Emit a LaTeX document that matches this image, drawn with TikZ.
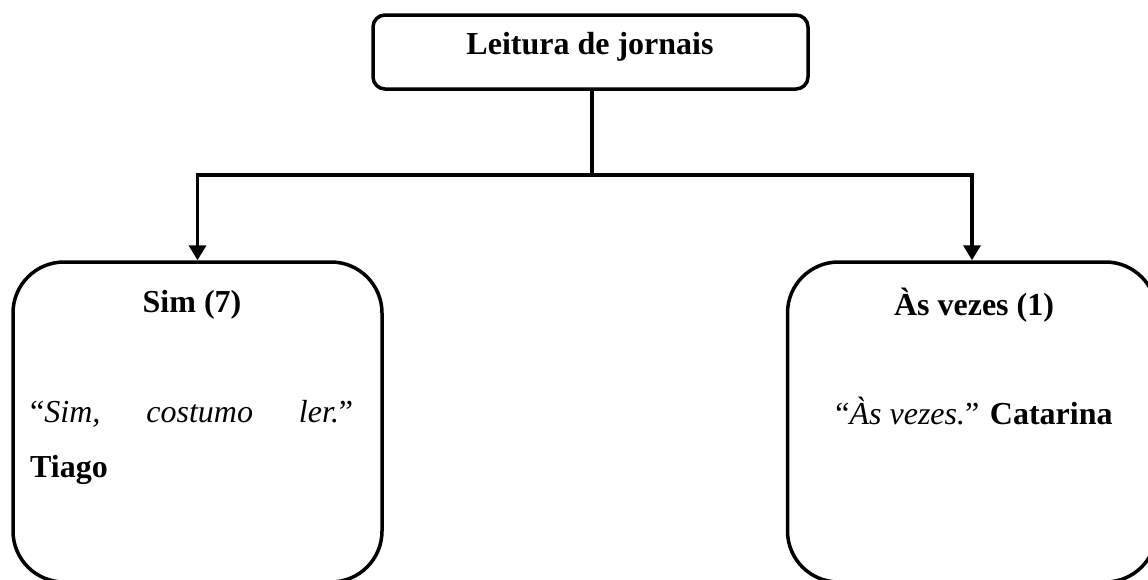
\documentclass[tikz,border=0pt]{standalone}
\usepackage{fontspec}
\setmainfont{Liberation Serif}
\usetikzlibrary{arrows.meta}
\begin{document}
\begin{tikzpicture}[x=1pt,y=-1pt,
  box/.style={draw=black, line width=3.5pt, rectangle, inner sep=0pt},
  topbox/.style={box, rounded corners=12pt, minimum width=435pt, minimum height=74pt},
  sidebox/.style={box, rounded corners=51pt, minimum width=369pt, minimum height=320pt},
  txt/.style={inner sep=0pt, font=\fontsize{32}{38}\selectfont},
  conn/.style={line width=3.5pt},
  arr/.style={conn, -{Triangle[length=15pt,width=17pt]}}
]
\useasboundingbox (0,0) rectangle (1148,579);
\node[topbox] (top) at (590.5,52) {};
\node[sidebox] (left) at (197.5,422) {};
\node[sidebox] (right) at (972,422) {};
\node[txt, anchor=base] (ttop) at (590,54) {\textbf{Leitura de jornais}};
\node[txt, anchor=base] (tsim) at (192,312) {\textbf{Sim (7)}};
\node[txt, anchor=base west] (tq1) at (30,422) {\makebox[323pt][l]{“\textit{Sim,}\hfill\textit{costumo}\hfill\textit{ler.}”}};
\node[txt, anchor=base west] (tq2) at (30,477) {\textbf{Tiago}};
\node[txt, anchor=base] (tas) at (974,315) {\textbf{Às vezes (1)}};
\node[txt, anchor=base] (tq3) at (974,424) {“\textit{Às vezes.}” \textbf{Catarina}};
\coordinate (j) at (592,175);
\draw[conn] (top.south -| j) -- (j);
\draw[arr] (j) -| (left.north);
\draw[arr] (j) -| (right.north);
\end{tikzpicture}
\end{document}
